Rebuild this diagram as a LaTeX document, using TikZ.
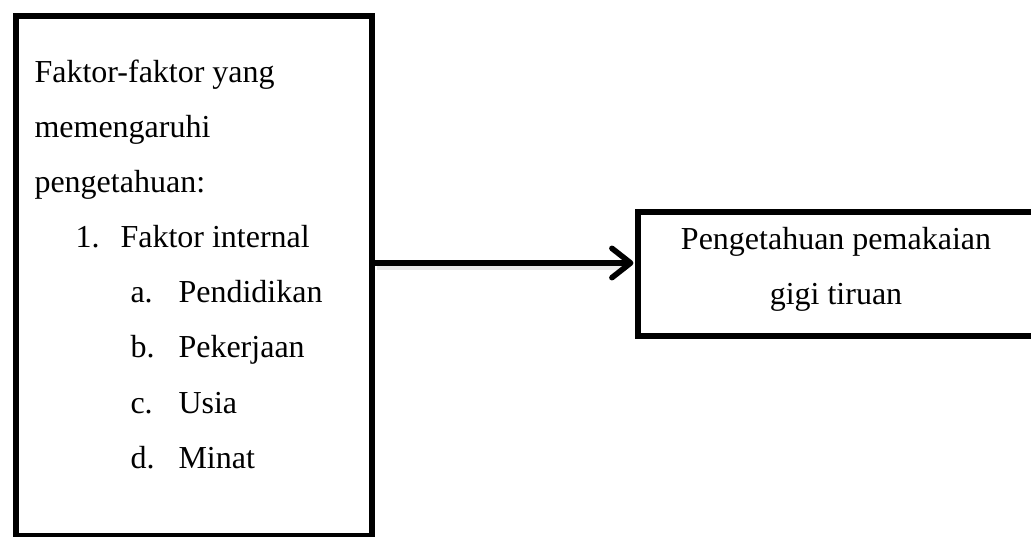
\documentclass[tikz,border=0pt]{standalone}
\usepackage{fontspec}
\setmainfont{Liberation Serif}
\usetikzlibrary{arrows.meta}
\tikzset{
  box/.style={draw=black, line width=2.1pt, inner sep=0pt, anchor=north west, fill=white},
  txt/.style={inner sep=0pt, anchor=base west, font=\fontsize{12pt}{14pt}\selectfont},
  ctxt/.style={inner sep=0pt, anchor=base, font=\fontsize{12pt}{14pt}\selectfont},
  flow/.style={line width=2.1pt, -{Straight Barb[length=7pt, width=11pt, line width=2.1pt, round]}},
  shade/.style={line width=2.1pt, draw=gray!18}
}
\begin{document}
\begin{tikzpicture}[x=0.375pt,y=-0.375pt]
\useasboundingbox (0,0) rectangle (1031,537);
\clip (0,0) rectangle (1031,537);
% boxes
\node[box, minimum width=133.5pt, minimum height=195pt] (L) at (13,13) {};
\node[box, minimum width=153.75pt, minimum height=46.5pt] (R) at (635,209) {};
% arrow
\coordinate (A) at (500,263);
\coordinate (As) at (500,267);
\draw[shade] ([xshift=1pt]L.east |- As) -- ([xshift=-3pt]R.west |- As);
\draw[flow] (L.east |- A) -- ([xshift=-0.6pt]R.west |- A);
% left text
\node[txt] (t1) at (34,83) {Faktor-faktor yang};
\node[txt] (t2) at (34,138) {memengaruhi};
\node[txt] (t3) at (34,193) {pengetahuan:};
\node[txt] (n1) at (75,248) {1.};
\node[txt] (n1t) at (120,248) {Faktor internal};
\node[txt] (la) at (130,303) {a.};
\node[txt] (lat) at (178,303) {Pendidikan};
\node[txt] (lb) at (130,358) {b.};
\node[txt] (lbt) at (178,358) {Pekerjaan};
\node[txt] (lc) at (130,414) {c.};
\node[txt] (lct) at (178,414) {Usia};
\node[txt] (ld) at (130,469) {d.};
\node[txt] (ldt) at (178,469) {Minat};
% right text
\node[ctxt] (r1) at (836,250) {Pengetahuan pemakaian};
\node[ctxt] (r2) at (836,305) {gigi tiruan};
\end{tikzpicture}
\end{document}
